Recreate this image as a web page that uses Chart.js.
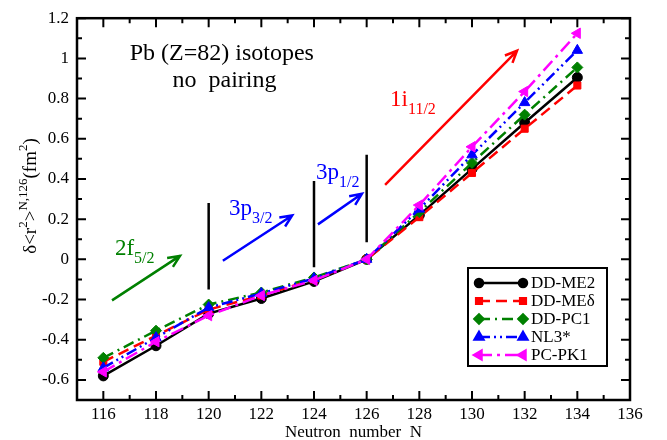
<!DOCTYPE html>
<html>
<head>
<meta charset="utf-8">
<script src="https://cdn.jsdelivr.net/npm/chart.js@4/dist/chart.umd.min.js"></script>
<style>
  body { margin: 0; background: #fff; }
  #wrap { width: 667px; height: 440px; }
</style>
</head>
<body>
<div id="wrap"><canvas id="myChart" width="667" height="440"></canvas></div>
<script>
// neutron numbers of the Pb isotopes
const neutrons = [116, 118, 120, 122, 124, 126, 128, 130, 132, 134];

// delta <r^2> relative to N=126 (fm^2)
const ddme2  = [-0.58, -0.43, -0.27, -0.195, -0.11, 0, 0.22, 0.45, 0.68, 0.905];
const ddmed  = [-0.51, -0.38, -0.25, -0.18, -0.10, 0, 0.21, 0.43, 0.65, 0.865];
const ddpc1  = [-0.49, -0.355, -0.225, -0.165, -0.09, 0, 0.235, 0.48, 0.72, 0.955];
const nl3s   = [-0.54, -0.39, -0.24, -0.17, -0.095, 0, 0.25, 0.52, 0.78, 1.04];
const pcpk1  = [-0.56, -0.41, -0.28, -0.18, -0.105, 0, 0.27, 0.56, 0.835, 1.125];

const seriesNames = ["DD-ME2", "DD-ME\u03b4", "DD-PC1", "NL3*", "PC-PK1"];

const xTicks = [116, 118, 120, 122, 124, 126, 128, 130, 132, 134, 136];
const xMinorTicks = [117, 119, 121, 123, 125, 127, 129, 131, 133, 135];
const yTicks = [-0.6, -0.4, -0.2, 0, 0.2, 0.4, 0.6, 0.8, 1, 1.2];
const yMinorTicks = [-0.5, -0.3, -0.1, 0.1, 0.3, 0.5, 0.7, 0.9, 1.1];

const FONT = '"Liberation Serif", "Times New Roman", serif';

function pts(vals) {
  return neutrons.map((n, i) => ({ x: n, y: vals[i] }));
}

function mkSet(i, vals, color, dash, style, radius, rot, order) {
  return {
    label: seriesNames[i],
    data: pts(vals),
    borderColor: color,
    backgroundColor: color,
    borderWidth: 2.5,
    borderDash: dash,
    pointStyle: style,
    pointRadius: radius,
    pointRotation: rot,
    pointBorderWidth: 1,
    pointBackgroundColor: color,
    pointBorderColor: color,
    tension: 0,
    order: order
  };
}

// draw a string made of pieces [text, size, dy]
function rich(ctx, parts, x, y, color, align) {
  ctx.fillStyle = color;
  ctx.textBaseline = 'alphabetic';
  ctx.textAlign = 'left';
  let w = 0;
  parts.forEach(p => { ctx.font = p[1] + 'px ' + FONT; w += ctx.measureText(p[0]).width; });
  let cx = align === 'center' ? x - w / 2 : x;
  parts.forEach(p => {
    ctx.font = p[1] + 'px ' + FONT;
    ctx.fillText(p[0], cx, y + p[2]);
    cx += ctx.measureText(p[0]).width;
  });
}

function arrow(ctx, x1, y1, x2, y2, color) {
  const ang = Math.atan2(y2 - y1, x2 - x1);
  const h = 13;
  ctx.strokeStyle = color;
  ctx.lineWidth = 2.5;
  ctx.setLineDash([]);
  ctx.beginPath();
  ctx.moveTo(x1, y1);
  ctx.lineTo(x2, y2);
  ctx.moveTo(x2 - h * Math.cos(ang - 0.42), y2 - h * Math.sin(ang - 0.42));
  ctx.lineTo(x2, y2);
  ctx.lineTo(x2 - h * Math.cos(ang + 0.42), y2 - h * Math.sin(ang + 0.42));
  ctx.stroke();
}

const decor = {
  id: 'decor',
  afterDraw(chart) {
    const { ctx, chartArea: a, scales: { x, y } } = chart;
    ctx.save();

    // frame + inward ticks on all sides
    ctx.strokeStyle = '#000';
    ctx.lineWidth = 2.5;
    ctx.setLineDash([]);
    ctx.strokeRect(a.left, a.top, a.right - a.left, a.bottom - a.top);
    ctx.lineWidth = 2;
    ctx.beginPath();
    const tickX = (v, len) => {
      const px = x.getPixelForValue(v);
      ctx.moveTo(px, a.bottom); ctx.lineTo(px, a.bottom - len);
      ctx.moveTo(px, a.top); ctx.lineTo(px, a.top + len);
    };
    const tickY = (v, len) => {
      const py = y.getPixelForValue(v);
      ctx.moveTo(a.left, py); ctx.lineTo(a.left + len, py);
      ctx.moveTo(a.right, py); ctx.lineTo(a.right - len, py);
    };
    xTicks.forEach(v => tickX(v, 9));
    xMinorTicks.forEach(v => tickX(v, 5));
    yTicks.forEach(v => tickY(v, 9));
    yMinorTicks.forEach(v => tickY(v, 5));
    ctx.stroke();

    // axis titles
    rich(ctx, [['Neutron  number  N', 17, 0]], (a.left + a.right) / 2, 437, '#000', 'center');
    ctx.save();
    ctx.translate(36, 196);
    ctx.rotate(-Math.PI / 2);
    rich(ctx, [['\u03b4<r', 19, 0], ['2', 13, -9], ['>', 19, 0], ['N,126', 13, -9],
               ['(fm', 19, 0], ['2', 13, -9], [')', 19, 0]], 0, 0, '#000', 'center');
    ctx.restore();

    // text + arrows placed in data coordinates
    const X = v => x.getPixelForValue(v), Y = v => y.getPixelForValue(v);
    rich(ctx, [['Pb (Z=82) isotopes', 24, 0]], X(120.5), Y(0.99), '#000', 'center');
    rich(ctx, [['no  pairing', 24, 0]], X(120.6), Y(0.857), '#000', 'center');

    const green = '#008000', blue = '#0000ff', red = '#ff0000';
    arrow(ctx, X(116.33), Y(-0.204), X(118.91), Y(0.017), green);
    rich(ctx, [['2f', 23, 0], ['5/2', 16, 8]], X(116.44), Y(0.022), green);

    ctx.strokeStyle = '#000';
    ctx.lineWidth = 2.5;
    ctx.beginPath();
    [[120, 0.28, -0.15], [124, 0.39, -0.04], [126, 0.52, 0.085]].forEach(l => {
      ctx.moveTo(X(l[0]), Y(l[1]));
      ctx.lineTo(X(l[0]), Y(l[2]));
    });
    ctx.stroke();

    arrow(ctx, X(120.54), Y(-0.007), X(123.17), Y(0.218), blue);
    rich(ctx, [['3p', 23, 0], ['3/2', 16, 8]], X(120.77), Y(0.223), blue);
    arrow(ctx, X(124.15), Y(0.174), X(125.82), Y(0.326), blue);
    rich(ctx, [['3p', 23, 0], ['1/2', 16, 8]], X(124.08), Y(0.40), blue);
    arrow(ctx, X(126.70), Y(0.371), X(131.71), Y(1.038), red);
    rich(ctx, [['1i', 23, 0], ['11/2', 16, 8]], X(126.89), Y(0.763), red);

    // legend box
    const lx = 468, ly = 268, lw = 139, lh = 98;
    ctx.fillStyle = '#fff';
    ctx.fillRect(lx, ly, lw, lh);
    ctx.strokeStyle = '#000';
    ctx.lineWidth = 2;
    ctx.strokeRect(lx, ly, lw, lh);
    seriesNames.forEach((name, i) => {
      const ds = chart.data.datasets[i];
      const ry = ly + 15 + i * 18;
      ctx.strokeStyle = ds.borderColor;
      ctx.lineWidth = 2.5;
      ctx.setLineDash(ds.borderDash);
      ctx.beginPath();
      ctx.moveTo(479, ry);
      ctx.lineTo(523, ry);
      ctx.stroke();
      ctx.setLineDash([]);
      ctx.fillStyle = ds.backgroundColor;
      [479, 523].forEach(px => {
        Chart.helpers.drawPoint(ctx, {
          pointStyle: ds.pointStyle, radius: ds.pointRadius - 1, rotation: ds.pointRotation, borderWidth: 1
        }, px, ry);
      });
      ctx.fillStyle = '#000';
      ctx.font = '17px ' + FONT;
      ctx.textAlign = 'left';
      ctx.textBaseline = 'middle';
      ctx.fillText(name, 531, ry + 1);
    });

    ctx.restore();
  }
};

const ctx = document.getElementById('myChart').getContext('2d');
new Chart(ctx, {
  type: 'line',
  data: {
    datasets: [
      mkSet(0, ddme2, '#000000', [], 'circle', 5, 0, 5),
      mkSet(1, ddmed, '#ff0000', [11, 6], 'rect', 5, 0, 4),
      mkSet(2, ddpc1, '#008000', [11, 5, 2, 5], 'rectRot', 5.5, 0, 3),
      mkSet(3, nl3s, '#0000ff', [11, 4, 2, 4, 2, 4], 'triangle', 6, 0, 2),
      mkSet(4, pcpk1, '#ff00ff', [13, 5, 3, 5], 'triangle', 6, -90, 1)
    ]
  },
  options: {
    responsive: false,
    animation: false,
    layout: { padding: { top: 13, right: 37, left: 0, bottom: 0 } },
    plugins: { legend: { display: false }, tooltip: { enabled: false } },
    scales: {
      x: {
        type: 'linear',
        min: 115,
        max: 136,
        afterFit: s => { s.height = 40; },
        afterBuildTicks: s => { s.ticks = xTicks.map(v => ({ value: v })); },
        grid: { display: false, drawTicks: false },
        border: { display: false },
        ticks: { color: '#000', font: { family: FONT, size: 17 }, padding: 4, maxRotation: 0 }
      },
      y: {
        type: 'linear',
        min: -0.7,
        max: 1.2,
        afterFit: s => { s.width = 77; },
        afterBuildTicks: s => { s.ticks = yTicks.map(v => ({ value: v })); },
        grid: { display: false, drawTicks: false },
        border: { display: false },
        ticks: {
          color: '#000', font: { family: FONT, size: 17 }, padding: 8,
          callback: v => String(parseFloat(v.toFixed(1)))
        }
      }
    }
  },
  plugins: [decor]
});
</script>
</body>
</html>
